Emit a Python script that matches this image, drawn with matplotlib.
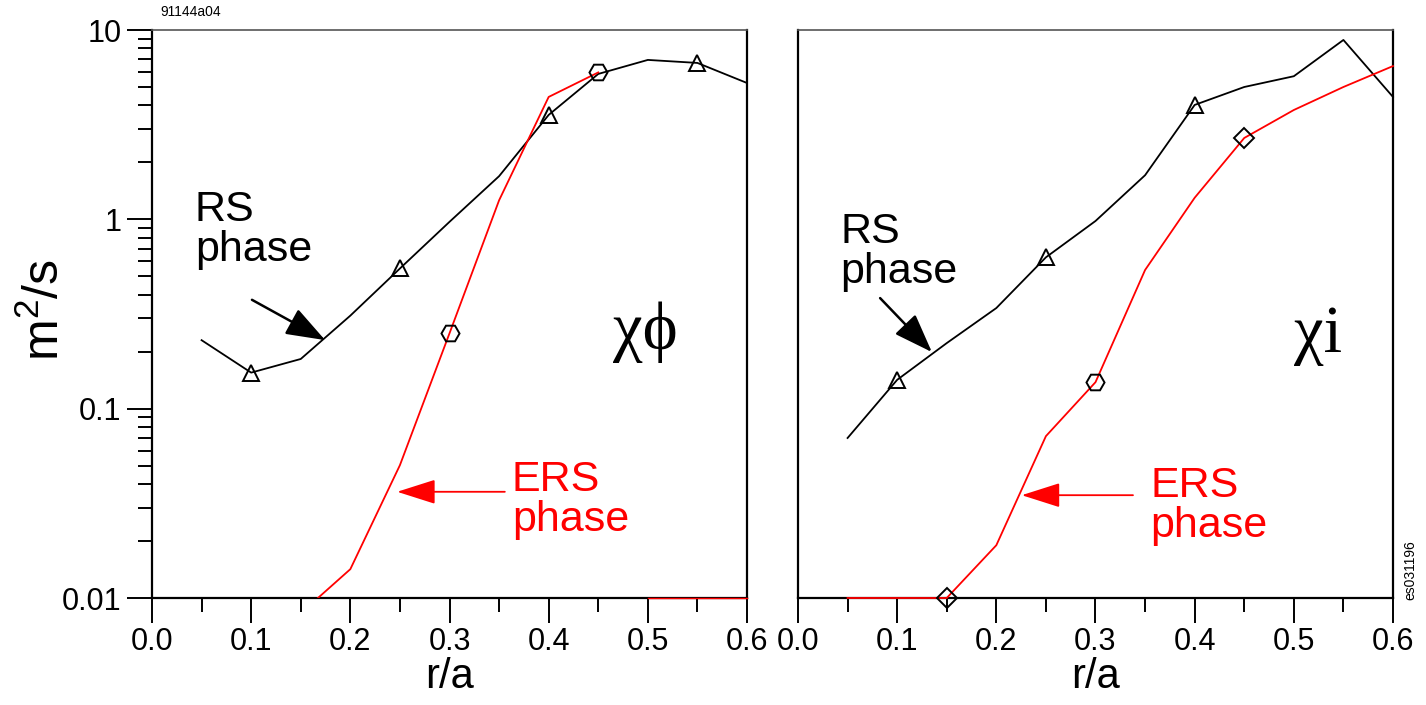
import numpy as np
import matplotlib
matplotlib.use("Agg")
import matplotlib.pyplot as plt
from matplotlib.ticker import FixedLocator, FixedFormatter, LogLocator, NullFormatter

plt.rcParams['font.family'] = ['Liberation Sans', 'DejaVu Sans']

#> Data
rA = [0.05, 0.1, 0.15, 0.2, 0.25, 0.3, 0.35, 0.4, 0.45, 0.5, 0.55, 0.6]

# chi_phi panel
rsPhi = [0.23, 0.155, 0.183, 0.31, 0.55, 0.97, 1.69, 3.56, 5.86, 6.95, 6.7, 5.25]
ersPhiR = [0.15, 0.2, 0.25, 0.3, 0.35, 0.4, 0.45]
ersPhi = [0.0083, 0.0142, 0.0503, 0.25, 1.26, 4.43, 5.97]
ersPhiFloorR = [0.5, 0.55, 0.6]
ersPhiFloor = [0.01, 0.01, 0.01]

# chi_i panel
rsChi = [0.070, 0.142, 0.222, 0.34, 0.63, 0.98, 1.71, 4.02, 5.0, 5.7, 8.86, 4.43]
ersChi = [0.01, 0.01, 0.01, 0.019, 0.0716, 0.138, 0.54, 1.3, 2.69, 3.78, 5.0, 6.45]

yTicks = [0.01, 0.1, 1, 10]
yTickLabels = ['0.01', '0.1', '1', '10']
xTicks = [0.0, 0.1, 0.2, 0.3, 0.4, 0.5, 0.6]
xTickLabels = ['0.0', '0.1', '0.2', '0.3', '0.4', '0.5', '0.6']

fig = plt.figure(figsize=(14.26, 7.05), dpi=100)
axL = fig.add_axes([152 / 1426, 107 / 705, 595 / 1426, 568 / 705])
axR = fig.add_axes([798 / 1426, 107 / 705, 595 / 1426, 568 / 705])


def styleAxes(ax, showY):
    ax.set_yscale('log')
    ax.set_xlim(0, 0.6)
    ax.set_ylim(0.01, 10)
    ax.xaxis.set_major_locator(FixedLocator(xTicks))
    ax.xaxis.set_major_formatter(FixedFormatter(xTickLabels))
    ax.xaxis.set_minor_locator(FixedLocator([0.05, 0.15, 0.25, 0.35, 0.45, 0.55]))
    ax.tick_params(axis='x', which='major', direction='out', length=18, width=1.4,
                   labelsize=22, pad=3)
    ax.tick_params(axis='x', which='minor', direction='out', length=10, width=1.4)
    if showY:
        ax.yaxis.set_major_locator(FixedLocator(yTicks))
        ax.yaxis.set_major_formatter(FixedFormatter(yTickLabels))
        ax.yaxis.set_minor_locator(LogLocator(base=10, subs=np.arange(2, 10)))
        ax.yaxis.set_minor_formatter(NullFormatter())
        ax.tick_params(axis='y', which='major', direction='out', length=18, width=1.4,
                       labelsize=22, pad=4)
        ax.tick_params(axis='y', which='minor', direction='out', length=10, width=1.4)
    else:
        ax.yaxis.set_major_locator(FixedLocator([]))
        ax.yaxis.set_minor_locator(FixedLocator([]))
    for side in ['left', 'right', 'bottom']:
        ax.spines[side].set_linewidth(1.6)
    ax.spines['top'].set_linewidth(1.2)
    ax.spines['top'].set_color('#555555')
    ax.set_xlabel('r/a', fontsize=30, labelpad=0)


styleAxes(axL, True)
styleAxes(axR, False)

lineKw = dict(lw=1.3, zorder=3)
triKw = dict(ls='none', marker='^', ms=11, mfc='none', mec='black', mew=1.4, zorder=4)
hexKw = dict(ls='none', mfc='none', mec='black', mew=1.4, ms=13, zorder=4)
textKw = dict(fontsize=31, ha='left', va='center', linespacing=1.0)

#> Left panel: chi_phi
axL.plot(rA, rsPhi, color='black', **lineKw)
axL.plot([rA[i] for i in [1, 4, 7, 10]], [rsPhi[i] for i in [1, 4, 7, 10]], **triKw)
axL.plot(ersPhiR, ersPhi, color='red', **lineKw)
axL.plot(ersPhiFloorR, ersPhiFloor, color='red', lw=1.0, clip_on=False, zorder=3)
axL.plot([ersPhiR[3], ersPhiR[6]], [ersPhi[3], ersPhi[6]], marker='H', **hexKw)

axL.text(0.072, 0.648, 'RS\nphase', transform=axL.transAxes, **textKw)
axL.annotate('', xy=(0.291, 0.454), xytext=(0.168, 0.525),
             xycoords='axes fraction', textcoords='axes fraction',
             arrowprops=dict(arrowstyle='-|>,head_length=1.1,head_width=0.4',
                             mutation_scale=22, color='black', lw=1.8, shrinkA=0, shrinkB=0))
axL.text(0.605, 0.173, 'ERS\nphase', transform=axL.transAxes, color='red', **textKw)
axL.annotate('', xy=(0.412, 0.187), xytext=(0.593, 0.187),
             xycoords='axes fraction', textcoords='axes fraction',
             arrowprops=dict(arrowstyle='-|>,head_length=1.1,head_width=0.35',
                             mutation_scale=22, color='red', lw=1.3, shrinkA=0, shrinkB=0))
axL.text(0.829, 0.468, 'χϕ', transform=axL.transAxes, fontsize=48,
         family=['Liberation Serif', 'DejaVu Serif'], ha='center', va='center')

#> Right panel: chi_i
axR.plot(rA, rsChi, color='black', clip_on=False, **lineKw)
axR.plot([rA[i] for i in [1, 4, 7]], [rsChi[i] for i in [1, 4, 7]], **triKw)
axR.plot(rA, ersChi, color='red', clip_on=False, **lineKw)
axR.plot([rA[2], rA[8]], [ersChi[2], ersChi[8]], marker='D', clip_on=False,
         ls='none', mfc='none', mec='black', mew=1.4, ms=10, zorder=4)
axR.plot([rA[5]], [ersChi[5]], marker='H', **hexKw)

axR.text(0.0706, 0.609, 'RS\nphase', transform=axR.transAxes, **textKw)
axR.annotate('', xy=(0.225, 0.433), xytext=(0.138, 0.528),
             xycoords='axes fraction', textcoords='axes fraction',
             arrowprops=dict(arrowstyle='-|>,head_length=1.1,head_width=0.4',
                             mutation_scale=22, color='black', lw=1.8, shrinkA=0, shrinkB=0))
axR.text(0.592, 0.162, 'ERS\nphase', transform=axR.transAxes, color='red', **textKw)
axR.annotate('', xy=(0.376, 0.181), xytext=(0.563, 0.181),
             xycoords='axes fraction', textcoords='axes fraction',
             arrowprops=dict(arrowstyle='-|>,head_length=1.1,head_width=0.35',
                             mutation_scale=22, color='red', lw=1.3, shrinkA=0, shrinkB=0))
axR.text(0.874, 0.462, 'χi', transform=axR.transAxes, fontsize=48,
         family=['Liberation Serif', 'DejaVu Serif'], ha='center', va='center')

#> Figure labels
fig.text(45 / 1426, 1 - 310 / 705, r'$\mathregular{m^2/s}$', fontsize=36,
         rotation=90, ha='center', va='center')
fig.text(160 / 1426, 1 - 12 / 705, '91144a04', fontsize=10, ha='left', va='center')
fig.text(1410 / 1426, 1 - 570 / 705, 'es031196', fontsize=10, rotation=90,
         ha='center', va='center')

plt.savefig('out.png', dpi=100)
